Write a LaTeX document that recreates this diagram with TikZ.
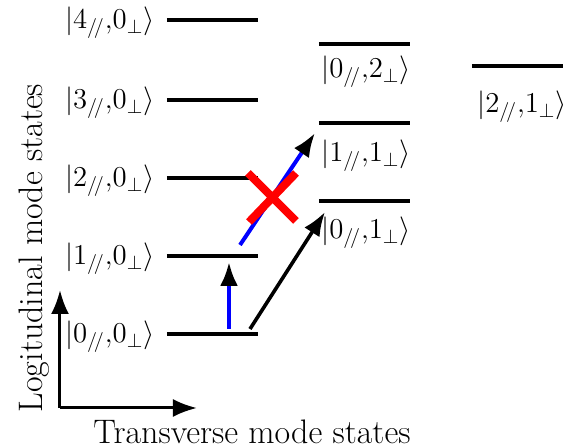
\documentclass[tikz,border=0pt]{standalone}
\usepackage{fontspec}
\usetikzlibrary{arrows.meta}
\tikzset{
  lev/.style={line width=2pt},
  ket/.style={font=\fontsize{14.5}{17}\selectfont, inner sep=0pt},
  tip/.style={-{Latex[length=12pt,width=9pt,color=black]}},
}
\newcommand{\ketlab}[2]{$|#1_{/\!/}{,}#2_{\perp}\rangle$}
\begin{document}
\begin{tikzpicture}[x=0.5pt,y=-0.5pt]
      \useasboundingbox (0,0) rectangle (570,448);
      % Longitudinal ladder
      \foreach \n/\y in {0/334,1/256,2/178,3/100,4/20} {
        \draw[lev] (167,\y) -- (258,\y);
        \node[ket, anchor=east] (k\n0) at (155,\y+3) {\ketlab{\n}{0}};
      }
      % Transverse levels
      \draw[lev] (319,44) -- (410,44);
      \node[ket] (k02) at (366,72) {\ketlab{0}{2}};
      \draw[lev] (319,123) -- (410,123);
      \node[ket] (k11) at (366,156) {\ketlab{1}{1}};
      \draw[lev] (319,201) -- (410,201);
      \node[ket] (k01) at (366,233) {\ketlab{0}{1}};
      \draw[lev] (472,66) -- (563,66);
      \node[ket] (k21) at (522,107) {\ketlab{2}{1}};
      % Arrow ends
      \coordinate (a0) at (229,329);
      \coordinate (a1) at (229,262);
      \coordinate (c0) at (240,245);
      \coordinate (c1) at (315,133);
      \coordinate (d0) at (250,329);
      \coordinate (d1) at (325,212);
      % Transitions
      \draw[blue, line width=2pt, tip] (a0) -- (a1);
      \draw[blue, line width=2pt, tip] (c0) -- (c1);
      \draw[line width=1.8pt, tip] (d0) -- (d1);
      % Forbidden
      \draw[red, line width=4pt] (248,173) -- (296,221);
      \draw[red, line width=4pt] (249,222) -- (296,173);
      % Axes
      \coordinate (o) at (60,408);
      \draw[line width=1.5pt, tip] (o) -- (60,290);
      \draw[line width=1.5pt, tip] (o) -- (197,408);
      \node[font=\fontsize{17}{20}\selectfont, rotate=90] (ylab) at (34,248) {Logitudinal mode states};
      \node[font=\fontsize{17}{20}\selectfont] (xlab) at (252,432) {Transverse mode states};
    \end{tikzpicture}
\end{document}
